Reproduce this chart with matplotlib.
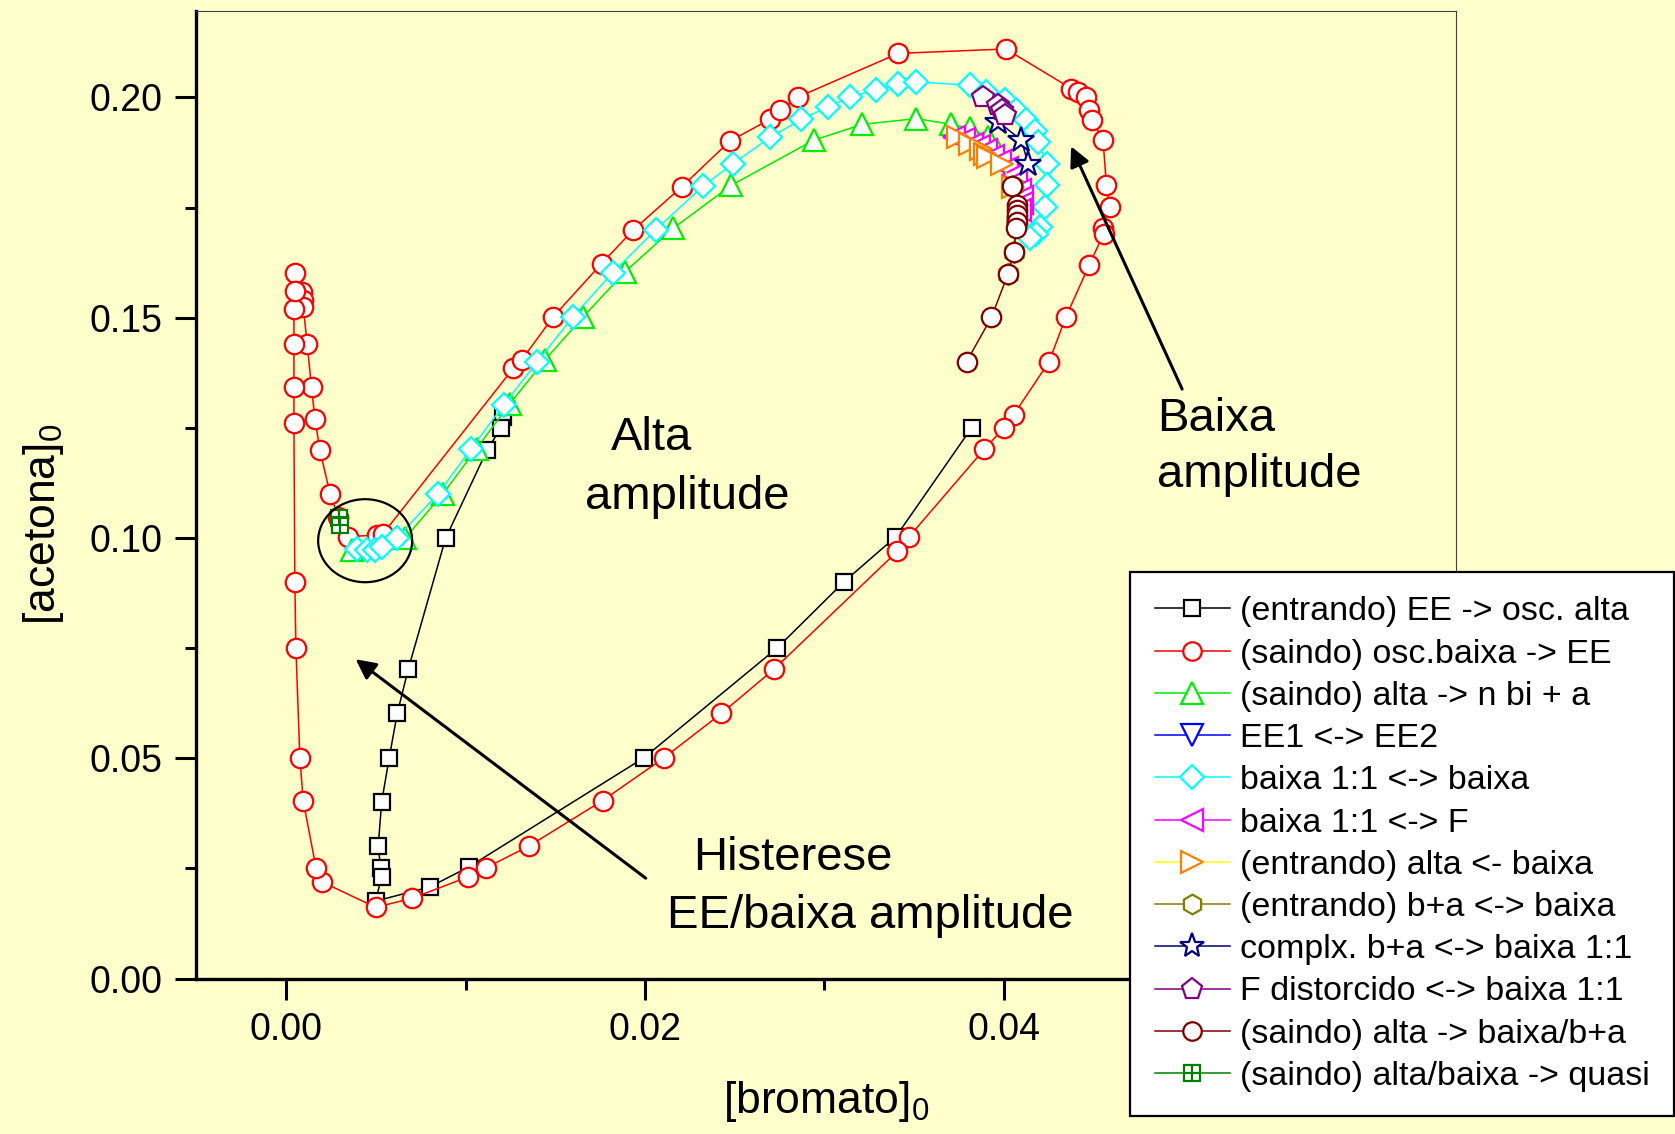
import matplotlib
matplotlib.use('Agg')
import matplotlib.pyplot as plt
from matplotlib.patches import Ellipse
from matplotlib.legend_handler import HandlerTuple

plt.rcParams['font.family'] = ['Liberation Sans', 'DejaVu Sans']
plt.rcParams['mathtext.fontset'] = 'custom'
plt.rcParams['mathtext.rm'] = 'Liberation Sans'

BG = '#FFFFCC'

# (entrando) EE -> osc. alta
ee_alta_x = [0.01209, 0.01195, 0.0112, 0.00888, 0.0068, 0.00619, 0.00574, 0.00532, 0.00513,
             0.00526, 0.00532, 0.00498, 0.0080, 0.0102, 0.01993, 0.02738, 0.0311, 0.03398, 0.0382]
ee_alta_y = [0.1275, 0.1249, 0.1200, 0.0999, 0.0702, 0.0602, 0.0501, 0.0401, 0.0301,
             0.0251, 0.0231, 0.0176, 0.0208, 0.0254, 0.0501, 0.0751, 0.0901, 0.1003, 0.1250]

# (saindo) osc.baixa -> EE
baixa_ee_x = [0.00048, 0.00086, 0.00095, 0.00095, 0.00117, 0.00141, 0.00160, 0.00188, 0.00244,
              0.00290, 0.00346, 0.00504, 0.00540, 0.01265, 0.01312, 0.01488, 0.01758, 0.01934,
              0.02204, 0.02473, 0.02695, 0.02755, 0.02853, 0.03411, 0.04011, 0.04377, 0.04414,
              0.04460, 0.04475, 0.04494, 0.04553, 0.04572, 0.04590, 0.04553, 0.04557, 0.04475,
              0.04345, 0.04252, 0.04055, 0.04000, 0.03890, 0.03472, 0.03407, 0.02718, 0.02426,
              0.02105, 0.01763, 0.01353, 0.01111, 0.01014, 0.00699, 0.00498, 0.00197, 0.00166,
              0.00095, 0.00076, 0.00054, 0.00048, 0.00043, 0.00043, 0.00043, 0.00043, 0.00048]
baixa_ee_y = [0.1601, 0.1559, 0.1540, 0.1525, 0.1440, 0.1342, 0.1271, 0.1199, 0.1101,
              0.1048, 0.1003, 0.1007, 0.1010, 0.1385, 0.1404, 0.1502, 0.1623, 0.1699,
              0.1797, 0.1901, 0.1950, 0.1971, 0.2001, 0.2100, 0.2110, 0.2020, 0.2013,
              0.2001, 0.1971, 0.1948, 0.1903, 0.1801, 0.1752, 0.1703, 0.1691, 0.1619,
              0.1501, 0.1400, 0.1280, 0.1250, 0.1201, 0.1003, 0.0970, 0.0702, 0.0602,
              0.0501, 0.0404, 0.0301, 0.0251, 0.0231, 0.0182, 0.0162, 0.0220, 0.0252,
              0.0403, 0.0501, 0.0751, 0.0901, 0.1261, 0.1342, 0.1440, 0.1521, 0.1560]

# (saindo) alta -> n bi + a
alta_nbi_x = [0.00364, 0.00661, 0.00875, 0.01061, 0.01247, 0.01442, 0.01655, 0.01888, 0.02157,
              0.02482, 0.02941, 0.03212, 0.03513, 0.03708, 0.0381, 0.0391, 0.0396]
alta_nbi_y = [0.0972, 0.0999, 0.1101, 0.1203, 0.1305, 0.1404, 0.1502, 0.1604, 0.1703,
              0.1801, 0.1903, 0.1939, 0.1952, 0.1939, 0.1930, 0.1910, 0.1880]

# EE1 <-> EE2
ee1_ee2_x = []
ee1_ee2_y = []

# baixa 1:1 <-> baixa
b11_baixa_x = [0.00392, 0.00448, 0.00494, 0.00532, 0.00615, 0.00847, 0.01028, 0.01213, 0.01399,
               0.01596, 0.01819, 0.0206, 0.02324, 0.02491, 0.02699, 0.02872, 0.0302, 0.03145,
               0.0329, 0.03411, 0.03513, 0.0381, 0.03903, 0.04005, 0.0407, 0.04126, 0.04172,
               0.04191, 0.04238, 0.04238, 0.04228, 0.0420, 0.04182, 0.04144]
b11_baixa_y = [0.0976, 0.0972, 0.0974, 0.0980, 0.0999, 0.1101, 0.1201, 0.1302, 0.1400,
               0.1501, 0.1602, 0.1700, 0.1799, 0.1850, 0.1910, 0.1950, 0.1979, 0.2001,
               0.2018, 0.2030, 0.2035, 0.2028, 0.2013, 0.1994, 0.1971, 0.1948, 0.1925,
               0.1899, 0.1850, 0.1801, 0.1752, 0.1706, 0.1691, 0.1680]

# baixa 1:1 <-> F
b11_f_x = [0.0372, 0.0378, 0.0382, 0.0386, 0.0390, 0.0394, 0.0398, 0.0402, 0.0405, 0.0407,
           0.0409, 0.0410, 0.0410, 0.0409]
b11_f_y = [0.1910, 0.1905, 0.1895, 0.1890, 0.1880, 0.1868, 0.1855, 0.1840, 0.1825, 0.1810,
           0.1790, 0.1775, 0.1760, 0.1745]

# (entrando) alta <- baixa
alta_baixa_x = [0.03745, 0.0381, 0.03875, 0.03894, 0.03912, 0.03987, 0.04052]
alta_baixa_y = [0.1910, 0.1895, 0.1882, 0.1871, 0.1865, 0.1850, 0.1797]

# (entrando) b+a <-> baixa
ba_baixa_x = [0.0405, 0.04074, 0.0407, 0.04055, 0.04024]
ba_baixa_y = [0.1799, 0.1744, 0.1718, 0.1650, 0.1600]

# complx. b+a <-> baixa 1:1
complx_x = [0.03968, 0.04098, 0.04135]
complx_y = [0.1945, 0.1903, 0.1850]

# F distorcido <-> baixa 1:1
fdist_x = [0.03884, 0.03968, 0.03987, 0.04005]
fdist_y = [0.2001, 0.1982, 0.1971, 0.1960]

# (saindo) alta -> baixa/b+a
alta_bba_x = [0.04048, 0.04074, 0.04074, 0.04074, 0.04074, 0.0407, 0.04055, 0.04024, 0.03931, 0.03792]
alta_bba_y = [0.1799, 0.1755, 0.1744, 0.1733, 0.1718, 0.1703, 0.1650, 0.1600, 0.1501, 0.1400]

# (saindo) alta/baixa -> quasi
quasi_x = [0.00295, 0.0030]
quasi_y = [0.1045, 0.1030]

fig = plt.figure(figsize=(16.75, 11.34), dpi=100, facecolor=BG)
ax = fig.add_axes([0.117, 0.137, 0.752, 0.8536])
ax.set_facecolor(BG)

lw = 1.1
mew = 1.6
kw = dict(lw=lw, mew=mew, mfc='white')

handles = []
h, = ax.plot(ee_alta_x, ee_alta_y, color='black', marker='s', ms=12, mec='black', **kw)
handles.append(h)
h, = ax.plot(baixa_ee_x, baixa_ee_y, color='red', marker='o', ms=14, mec='red', **kw)
handles.append(h)
h, = ax.plot(alta_nbi_x, alta_nbi_y, color='#00EE00', marker='^', ms=16, mec='#00EE00', **kw)
handles.append(h)
h, = ax.plot(ee1_ee2_x, ee1_ee2_y, color='blue', marker='v', ms=16, mec='blue', **kw)
handles.append(h)
h, = ax.plot(b11_baixa_x, b11_baixa_y, color='cyan', marker='D', ms=12.5, mec='cyan', **kw)
handles.append(h)
h, = ax.plot(b11_f_x, b11_f_y, color='magenta', marker='<', ms=16, mec='magenta', **kw)
handles.append(h)
h, = ax.plot(alta_baixa_x, alta_baixa_y, color='yellow', marker='>', ms=16, mec='#FF8000', **kw)
handles.append(h)
h, = ax.plot(ba_baixa_x, ba_baixa_y, color='#808000', marker='h', ms=15, mec='#808000', **kw)
handles.append(h)
h, = ax.plot(complx_x, complx_y, color='#000080', marker='*', ms=19, mec='#000080', **kw)
handles.append(h)
h, = ax.plot(fdist_x, fdist_y, color='#800080', marker='p', ms=16, mec='#800080', **kw)
handles.append(h)
h, = ax.plot(alta_bba_x, alta_bba_y, color='#800000', marker='o', ms=14, mec='#800000', **kw)
handles.append(h)
h1, = ax.plot(quasi_x, quasi_y, color='#008000', marker='s', ms=12, mec='#008000', **kw)
h2, = ax.plot(quasi_x, quasi_y, color='#008000', marker='+', ms=12, mew=mew, ls='none')
handles.append((h1, h2))

labels = ['(entrando) EE -> osc. alta', '(saindo) osc.baixa -> EE', '(saindo) alta -> n bi + a',
          'EE1 <-> EE2', 'baixa 1:1 <-> baixa', 'baixa 1:1 <-> F', '(entrando) alta <- baixa',
          '(entrando) b+a <-> baixa', 'complx. b+a <-> baixa 1:1', 'F distorcido <-> baixa 1:1',
          '(saindo) alta -> baixa/b+a', '(saindo) alta/baixa -> quasi']

# hysteresis region
ax.add_patch(Ellipse((0.0044, 0.0994), 0.00524, 0.01884, fill=False, ec='black', lw=1.6, zorder=5))

arrow = dict(arrowstyle='-|>', lw=2.2, color='black', mutation_scale=30, shrinkA=0, shrinkB=0)
ax.annotate('', xy=(0.00387, 0.0725), xytext=(0.02004, 0.0228), arrowprops=arrow)
ax.annotate('', xy=(0.04375, 0.1889), xytext=(0.04994, 0.1338), arrowprops=arrow)

tfs = 34
ax.text(0.02036, 0.1227, 'Alta', fontsize=tfs, ha='center', va='center')
ax.text(0.02238, 0.1093, 'amplitude', fontsize=tfs, ha='center', va='center')
ax.text(0.04852, 0.1271, 'Baixa', fontsize=tfs, ha='left', va='center')
ax.text(0.04852, 0.1142, 'amplitude', fontsize=tfs, ha='left', va='center')
ax.text(0.02821, 0.0274, 'Histerese', fontsize=tfs, ha='center', va='center')
ax.text(0.03256, 0.0143, 'EE/baixa amplitude', fontsize=tfs, ha='center', va='center')

ax.set_xlim(-0.00503, 0.06518)
ax.set_ylim(0, 0.2197)
ax.set_xticks([0.0, 0.02, 0.04])
ax.set_xticks([0.01, 0.03], minor=True)
ax.set_yticks([0.0, 0.05, 0.10, 0.15, 0.20])
ax.set_yticks([0.025, 0.075, 0.125, 0.175], minor=True)
ax.xaxis.set_major_formatter(lambda v, p: '%.2f' % v)
ax.yaxis.set_major_formatter(lambda v, p: '%.2f' % v)
ax.tick_params(axis='both', which='major', labelsize=27, direction='out', length=15, width=2.2, pad=9)
ax.tick_params(axis='both', which='minor', direction='out', length=8, width=2.2)

for s in ['left', 'bottom']:
    ax.spines[s].set_linewidth(2.4)
for s in ['top', 'right']:
    ax.spines[s].set_linewidth(0.8)
    ax.spines[s].set_color('#404040')

ax.set_xlabel(r'[bromato]$_0$', fontsize=32)
ax.set_ylabel(r'[acetona]$_0$', fontsize=32)
ax.xaxis.set_label_coords(0.5, -0.104)
ax.yaxis.set_label_coords(-0.103, 0.47)

leg = fig.legend(handles, labels, loc='lower right', bbox_to_anchor=(0.9995, 0.0155),
                 fontsize=24.5, handlelength=2.2, handletextpad=0.3, labelspacing=0.33,
                 borderpad=0.72, borderaxespad=0, fancybox=False, framealpha=1, edgecolor='black',
                 markerscale=0.95, handler_map={tuple: HandlerTuple(ndivide=1)})
leg.get_frame().set_linewidth(1.6)
leg.get_frame().set_facecolor('white')

fig.savefig('out.png', dpi=100, facecolor=BG)
